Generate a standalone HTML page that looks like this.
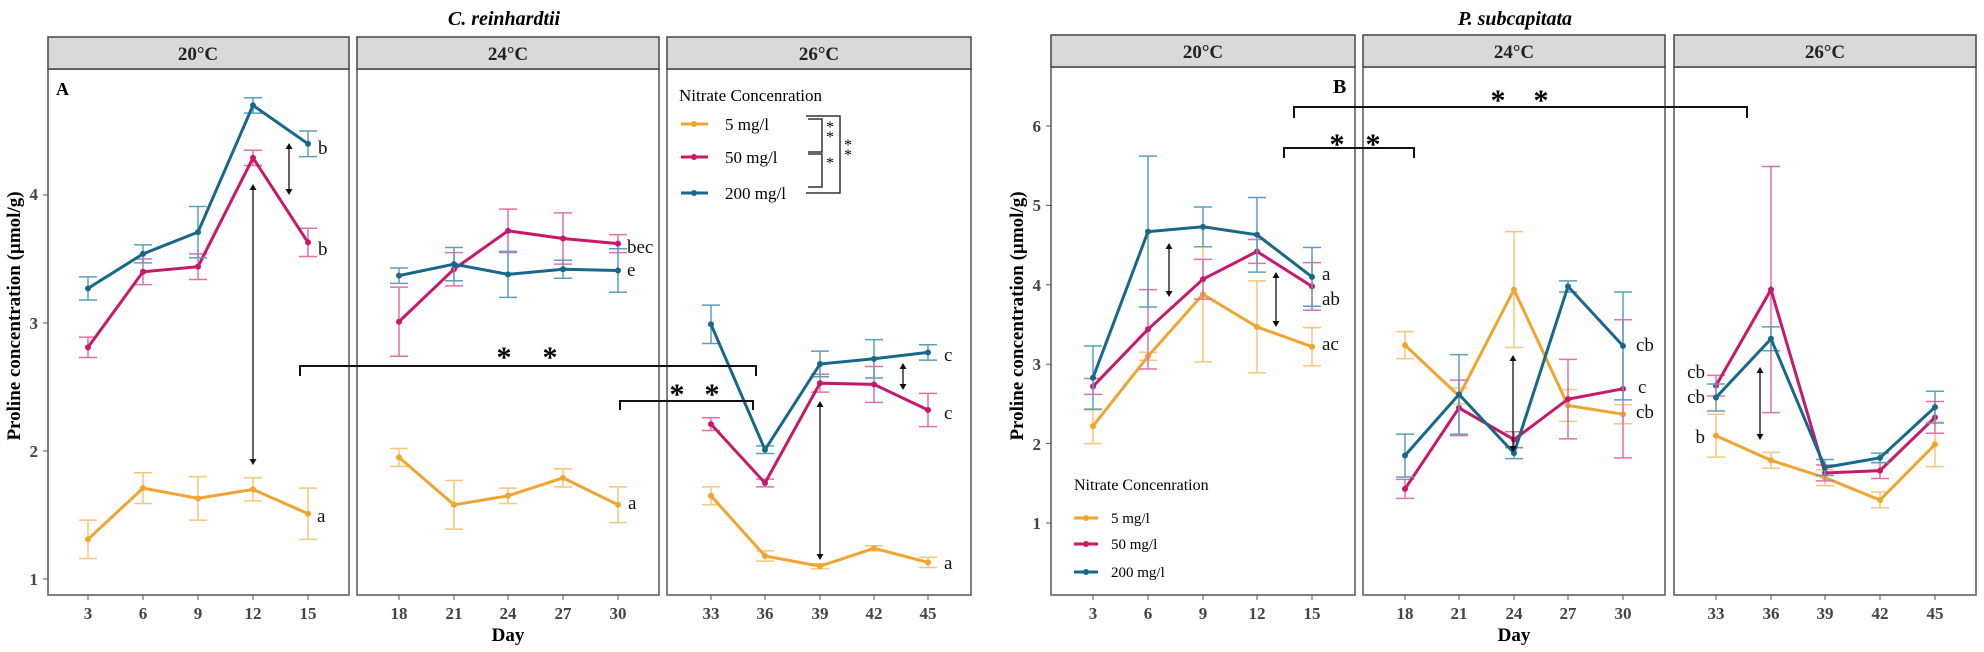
<!DOCTYPE html>
<html><head><meta charset="utf-8"><style>
html,body{margin:0;padding:0;background:#fff;width:1984px;height:652px;overflow:hidden}
svg{display:block}
text{font-family:"Liberation Serif",serif}
.tk{font-size:17px;font-weight:bold;fill:#444}
.st{font-size:19px;font-weight:bold;fill:#222}
.lt{font-size:19px;fill:#111}
</style></head><body>
<svg id="s" width="1984" height="652" viewBox="0 0 1984 652" xmlns="http://www.w3.org/2000/svg">
<rect width="1984" height="652" fill="#fff"/>
<g id="g"></g>
<text x="504" y="25" text-anchor="middle" style="font-size:20px;font-weight:bold;font-style:italic">C. reinhardtii</text>
<text x="1515" y="25" text-anchor="middle" style="font-size:20px;font-weight:bold;font-style:italic">P. subcapitata</text>
<text class="st" x="198" y="60" text-anchor="middle">20°C</text>
<text class="st" x="508" y="60" text-anchor="middle">24°C</text>
<text class="st" x="819" y="60" text-anchor="middle">26°C</text>
<text class="st" x="1203" y="58" text-anchor="middle">20°C</text>
<text class="st" x="1514" y="58" text-anchor="middle">24°C</text>
<text class="st" x="1825" y="58" text-anchor="middle">26°C</text>
<text class="tk" x="38" y="585" text-anchor="end">1</text>
<text class="tk" x="38" y="457" text-anchor="end">2</text>
<text class="tk" x="38" y="329" text-anchor="end">3</text>
<text class="tk" x="38" y="200" text-anchor="end">4</text>
<text class="tk" x="1041" y="529" text-anchor="end">1</text>
<text class="tk" x="1041" y="450" text-anchor="end">2</text>
<text class="tk" x="1041" y="370" text-anchor="end">3</text>
<text class="tk" x="1041" y="291" text-anchor="end">4</text>
<text class="tk" x="1041" y="211" text-anchor="end">5</text>
<text class="tk" x="1041" y="132" text-anchor="end">6</text>
<text transform="translate(20,316) rotate(-90)" text-anchor="middle" style="font-size:19px;font-weight:bold">Proline concentration (µmol/g)</text>
<text transform="translate(1023,316) rotate(-90)" text-anchor="middle" style="font-size:19px;font-weight:bold">Proline concentration (µmol/g)</text>
<g class="tk" text-anchor="middle">
<text x="88" y="619">3</text><text x="143" y="619">6</text><text x="198" y="619">9</text><text x="253" y="619">12</text><text x="308" y="619">15</text>
<text x="399" y="619">18</text><text x="454" y="619">21</text><text x="508" y="619">24</text><text x="563" y="619">27</text><text x="618" y="619">30</text>
<text x="711" y="619">33</text><text x="765" y="619">36</text><text x="820" y="619">39</text><text x="874" y="619">42</text><text x="928" y="619">45</text>
<text x="1093" y="619">3</text><text x="1148" y="619">6</text><text x="1203" y="619">9</text><text x="1257" y="619">12</text><text x="1312" y="619">15</text>
<text x="1405" y="619">18</text><text x="1459" y="619">21</text><text x="1514" y="619">24</text><text x="1568" y="619">27</text><text x="1623" y="619">30</text>
<text x="1716" y="619">33</text><text x="1771" y="619">36</text><text x="1825" y="619">39</text><text x="1880" y="619">42</text><text x="1935" y="619">45</text>
</g>
<text x="508" y="641" text-anchor="middle" style="font-size:19px;font-weight:bold">Day</text>
<text x="1514" y="641" text-anchor="middle" style="font-size:19px;font-weight:bold">Day</text>
<text x="56" y="95" style="font-size:18px;font-weight:bold">A</text>
<text x="1333" y="93" style="font-size:20px;font-weight:bold">B</text>
<g class="lt">
<text x="318" y="154">b</text><text x="318" y="255">b</text><text x="317" y="522">a</text>
<text x="627" y="253">bec</text><text x="627" y="276">e</text><text x="628" y="509">a</text>
<text x="944" y="361">c</text><text x="944" y="419">c</text><text x="944" y="569">a</text>
<text x="1322" y="280">a</text><text x="1322" y="305">ab</text><text x="1322" y="350">ac</text>
<text x="1636" y="351">cb</text><text x="1638" y="393">c</text><text x="1636" y="418">cb</text>
<text x="1705" y="378" text-anchor="end">cb</text><text x="1705" y="403" text-anchor="end">cb</text><text x="1705" y="443" text-anchor="end">b</text>
</g>
<g style="font-size:30px;font-weight:bold" text-anchor="middle">
<text x="504" y="367">*</text><text x="550" y="367">*</text>
<text x="677" y="404">*</text><text x="712" y="404">*</text>
<text x="1498" y="110">*</text><text x="1541" y="110">*</text>
<text x="1337" y="154">*</text><text x="1373" y="154">*</text>
</g>
<text x="679" y="101" style="font-size:17px">Nitrate Concenration</text>
<g style="font-size:17px"><text x="725" y="130">5 mg/l</text><text x="725" y="163">50 mg/l</text><text x="725" y="199">200 mg/l</text></g>
<g style="font-size:16px" text-anchor="middle"><text x="830" y="132">*</text><text x="830" y="142">*</text><text x="830" y="168">*</text><text x="848" y="150">*</text><text x="848" y="160">*</text></g>
<text x="1074" y="490" style="font-size:16px">Nitrate Concenration</text>
<g style="font-size:15px"><text x="1111" y="523">5 mg/l</text><text x="1111" y="549">50 mg/l</text><text x="1111" y="577">200 mg/l</text></g>
</svg>
<script>
var g=document.getElementById('g'),NS='http://www.w3.org/2000/svg';
function el(t,a){var e=document.createElementNS(NS,t);for(var k in a)e.setAttribute(k,a[k]);g.appendChild(e);return e;}
var C={o:'#f0a530',m:'#c8186c',b:'#17688a'},E={o:'#f5c77a',m:'#e070a8',b:'#5aa0bb'};
[[48,349],[357,659],[667,971]].forEach(function(p){el('rect',{x:p[0],y:69,width:p[1]-p[0],height:526,fill:'none',stroke:'#555','stroke-width':1.5});el('rect',{x:p[0],y:37,width:p[1]-p[0],height:32,fill:'#d9d9d9',stroke:'#444','stroke-width':1.5});});
[[1051,1355],[1363,1665],[1674,1976]].forEach(function(p){el('rect',{x:p[0],y:67,width:p[1]-p[0],height:528,fill:'none',stroke:'#555','stroke-width':1.5});el('rect',{x:p[0],y:35,width:p[1]-p[0],height:32,fill:'#d9d9d9',stroke:'#444','stroke-width':1.5});});
[88,143,198,253,308,399,454,508,563,618,711,765,820,874,928,1093,1148,1203,1257,1312,1405,1459,1514,1568,1623,1716,1771,1825,1880,1935].forEach(function(x){el('line',{x1:x,x2:x,y1:595,y2:600,stroke:'#555'});});
[1,2,3,4].forEach(function(v){var y=579-(v-1)*128;el('line',{x1:43,x2:48,y1:y,y2:y,stroke:'#555'});});
[1,2,3,4,5,6].forEach(function(v){var y=523-(v-1)*79.4;el('line',{x1:1046,x2:1051,y1:y,y2:y,stroke:'#555'});});
function series(xs,vals,errs,col,fy){
 for(var i=0;i<5;i++){var x=xs[i],y1=fy(vals[i]+errs[i]),y2=fy(vals[i]-errs[i]);
  el('line',{x1:x,x2:x,y1:y1,y2:y2,stroke:E[col],'stroke-width':1.5});
  el('line',{x1:x-9,x2:x+9,y1:y1,y2:y1,stroke:E[col],'stroke-width':1.5});
  el('line',{x1:x-9,x2:x+9,y1:y2,y2:y2,stroke:E[col],'stroke-width':1.5});}
 var pts=xs.map(function(x,i){return x+','+fy(vals[i]).toFixed(1)}).join(' ');
 el('polyline',{points:pts,fill:'none',stroke:C[col],'stroke-width':3});
 xs.forEach(function(x,i){el('circle',{cx:x,cy:fy(vals[i]),r:3,fill:C[col]});});
}
var fl=function(v){return 579-(v-1)*128},fr=function(v){return 523-(v-1)*79.4};
var L=[[88,143,198,253,308],[399,454,508,563,618],[711,765,820,874,928]];
var R=[[1093,1148,1203,1257,1312],[1405,1459,1514,1568,1623],[1716,1771,1825,1880,1935]];
var dl=[
 {o:[[1.31,1.71,1.63,1.7,1.51],[.15,.12,.17,.09,.2]],m:[[2.81,3.4,3.44,4.29,3.63],[.08,.1,.1,.06,.11]],b:[[3.27,3.54,3.71,4.7,4.4],[.09,.07,.2,.06,.1]]},
 {o:[[1.95,1.58,1.65,1.79,1.58],[.07,.19,.06,.07,.14]],m:[[3.01,3.42,3.72,3.66,3.62],[.27,.13,.17,.2,.07]],b:[[3.37,3.46,3.38,3.42,3.41],[.06,.13,.18,.07,.17]]},
 {o:[[1.65,1.18,1.1,1.24,1.13],[.07,.04,.02,.02,.04]],m:[[2.21,1.75,2.53,2.52,2.32],[.05,.03,.07,.14,.13]],b:[[2.99,2.01,2.68,2.72,2.77],[.15,.03,.1,.15,.06]]}];
var dr=[
 {o:[[2.22,3.1,3.88,3.47,3.22],[.22,.05,.85,.58,.24]],m:[[2.72,3.44,4.07,4.42,3.98],[.1,.5,.25,.15,.3]],b:[[2.83,4.67,4.73,4.63,4.1],[.4,.95,.25,.47,.37]]},
 {o:[[3.24,2.6,3.94,2.48,2.37],[.17,.1,.73,.2,.12]],m:[[1.43,2.45,2.05,2.56,2.69],[.12,.35,.1,.5,.87]],b:[[1.85,2.62,1.88,3.98,3.23],[.27,.5,.07,.07,.68]]},
 {o:[[2.1,1.79,1.57,1.29,1.99],[.27,.1,.1,.1,.28]],m:[[2.73,3.94,1.63,1.66,2.33],[.13,1.55,.1,.1,.2]],b:[[2.58,3.32,1.7,1.82,2.46],[.17,.15,.1,.06,.2]]}];
for(var p=0;p<3;p++){['o','m','b'].forEach(function(c){series(L[p],dl[p][c][0],dl[p][c][1],c,fl);series(R[p],dr[p][c][0],dr[p][c][1],c,fr);});}
function arr(x,y1,y2){el('line',{x1:x,x2:x,y1:y1+4,y2:y2-4,stroke:'#111','stroke-width':1.3});
 el('polygon',{points:(x-3.5)+','+(y1+6)+' '+(x+3.5)+','+(y1+6)+' '+x+','+y1,fill:'#111'});
 el('polygon',{points:(x-3.5)+','+(y2-6)+' '+(x+3.5)+','+(y2-6)+' '+x+','+y2,fill:'#111'});}
arr(289,143,195);arr(253,184,465);arr(903,363,390);arr(820,401,560);
arr(1169,243,297);arr(1276,272,327);arr(1513,355,452);arr(1760,367,440);
function br(x1,x2,y,d){el('polyline',{points:x1+','+(y+d)+' '+x1+','+y+' '+x2+','+y+' '+x2+','+(y+d),fill:'none',stroke:'#111','stroke-width':2});}
br(300,756,366,10);br(620,753,401,9);br(1294,1747,107,11);br(1284,1414,148,10);
[['o',124],['m',157],['b',193]].forEach(function(a){el('line',{x1:681,x2:708,y1:a[1],y2:a[1],stroke:C[a[0]],'stroke-width':3});el('circle',{cx:694,cy:a[1],r:3,fill:C[a[0]]});});
[['o',518],['m',544],['b',572]].forEach(function(a){el('line',{x1:1074,x2:1098,y1:a[1],y2:a[1],stroke:C[a[0]],'stroke-width':3});el('circle',{cx:1086,cy:a[1],r:3,fill:C[a[0]]});});
el('polyline',{points:'808,119 822,119 822,152 808,152',fill:'none',stroke:'#333','stroke-width':1.5});
el('polyline',{points:'808,154 822,154 822,187 808,187',fill:'none',stroke:'#333','stroke-width':1.5});
el('polyline',{points:'806,116 840,116 840,193 806,193',fill:'none',stroke:'#333','stroke-width':1.5});
</script>
</body></html>
